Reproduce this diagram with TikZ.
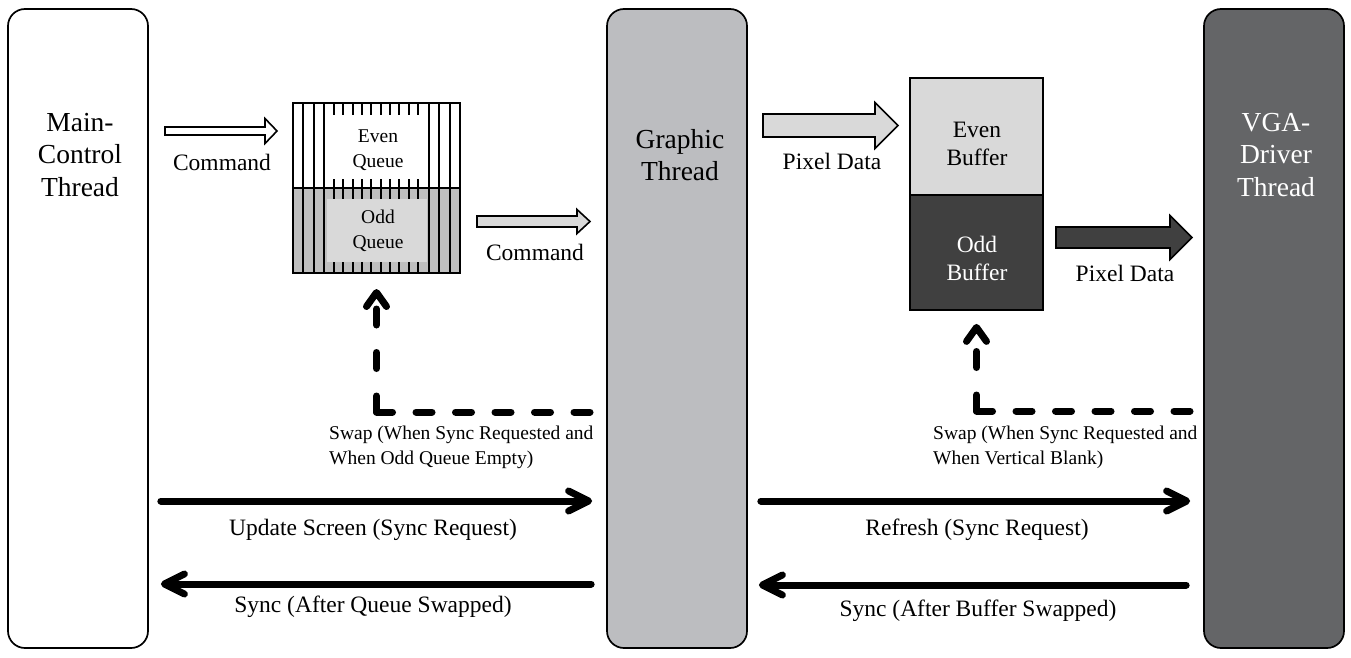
\documentclass[tikz,border=0pt]{standalone}
\usepackage{fontspec}
\setmainfont{Liberation Serif}
\usetikzlibrary{arrows.meta,calc}
\definecolor{gthread}{HTML}{BCBDC0}
\definecolor{vthread}{HTML}{646567}
\definecolor{lgray}{HTML}{D9D9D9}
\definecolor{mgray}{HTML}{BFBFBF}
\definecolor{dgray}{HTML}{404040}
\newcommand\blockarr[7]{%
  \draw[line width=1.6, fill=#1] (#2,#4-#5) -- (#3-#7,#4-#5) -- (#3-#7,#4-#6) -- (#3,#4) -- (#3-#7,#4+#6) -- (#3-#7,#4+#5) -- (#2,#4+#5) -- cycle;}
\tikzset{
  thread/.style={draw, line width=1.7, rounded corners=17, minimum width=140, minimum height=639, inner sep=0},
  threadtxt/.style={align=center, font=\fontsize{27.5}{32.5}\selectfont, inner sep=0},
  lbl/.style={font=\fontsize{23.5}{28}\selectfont, inner sep=0},
  smalllbl/.style={font=\fontsize{19.5}{25}\selectfont, inner sep=0, align=center},
  swaplbl/.style={font=\fontsize{19.5}{25}\selectfont, inner sep=0, align=left, anchor=west},
  solidarrow/.style={line width=7, line cap=round, -{Straight Barb[length=20pt,width=20pt,line cap=round,line join=round]}},
  hdash/.style={line width=7, line cap=round, dash pattern=on 16pt off 23.5pt},
  vdash/.style={line width=7, line cap=round, dash pattern=on 16pt off 27.5pt, -{Straight Barb[length=14pt,width=20pt,line cap=round,line join=round]}},
  subbox/.style={draw, line width=2, minimum width=167, minimum height=85, inner sep=0},
  bufbox/.style={draw, line width=1.8, minimum width=133, inner sep=0},
}
\begin{document}
\begin{tikzpicture}[x=1pt,y=-1pt]
\useasboundingbox (0,0) rectangle (1351,658);
% thread columns
\node[thread, fill=white] (main) at (78,328.5) {};
\node[thread, fill=gthread] (graphic) at (677,328.5) {};
\node[thread, fill=vthread] (vga) at (1274,328.5) {};
\node[threadtxt] (maintxt) at (80,155) {Main-\\Control\\Thread};
\node[threadtxt] (graphictxt) at (680,155) {Graphic\\Thread};
\node[threadtxt, text=white] (vgatxt) at (1276,155) {VGA-\\Driver\\Thread};
% queue
\fill[white] (293,103) rectangle (460,188);
\fill[mgray] (293,188) rectangle (460,273);
\foreach \x in {303.3,314,324.3,334,343.3,352.7,362,371.3,380.7,390,399.3,408.7,418,428.7,439.3,450}
  \draw[line width=2] (\x,103) -- (\x,273);
\node[fill=white, minimum width=100, minimum height=64, inner sep=0] (evenin) at (377,147) {};
\node[fill=lgray, minimum width=100, minimum height=63, inner sep=0] (oddin) at (377,230.5) {};
\node[subbox] (evenq) at (376.5,145.5) {};
\node[subbox] (oddq) at (376.5,230.5) {};
\node[smalllbl] (evenqtxt) at (378,150) {Even\\Queue};
\node[smalllbl] (oddqtxt) at (378,231) {Odd\\Queue};
% buffers
\node[bufbox, fill=lgray, minimum height=117] (evenb) at (976.5,136.5) {};
\node[bufbox, fill=dgray, minimum height=115] (oddb) at (976.5,252.5) {};
\node[lbl, align=center] (evenbtxt) at (977,144) {Even\\Buffer};
\node[lbl, align=center, text=white] (oddbtxt) at (977,258) {Odd\\Buffer};
% block arrows
\blockarr{white}{165}{277}{131}{4}{12.5}{12}
\blockarr{lgray}{477}{590}{221.5}{5.5}{12}{13}
\blockarr{lgray}{763}{898}{125.5}{11.5}{23}{23}
\blockarr{dgray}{1056}{1192}{237.5}{10.5}{22}{22}
\node[lbl] (cmd1) at (222,162) {Command};
\node[lbl] (cmd2) at (535,252) {Command};
\node[lbl] (pix1) at (832,161) {Pixel Data};
\node[lbl] (pix2) at (1125,273) {Pixel Data};
% dashed swap arrows
\coordinate (c1) at (oddq.south |- 0,412);
\coordinate (c2) at (oddb.south |- 0,411);
\draw[hdash] (c1) -- ([xshift=-15]graphic.west |- c1);
\draw[vdash] (c1) -- ([yshift=-15]oddq.south);
\draw[hdash] (c2) -- ([xshift=-13]vga.west |- c2);
\draw[vdash] (c2) -- ([yshift=-13]oddb.south);
\node[swaplbl] (swap1) at (329,447.5) {Swap (When Sync Requested and\\When Odd Queue Empty)};
\node[swaplbl] (swap2) at (933,447.5) {Swap (When Sync Requested and\\When Vertical Blank)};
% sync arrows
\draw[solidarrow] ([xshift=12]main.east |- 0,501) -- ([xshift=-14]graphic.west |- 0,501);
\draw[solidarrow] ([xshift=-15]graphic.west |- 0,584) -- ([xshift=12]main.east |- 0,584);
\draw[solidarrow] ([xshift=13]graphic.east |- 0,501) -- ([xshift=-13]vga.west |- 0,501);
\draw[solidarrow] ([xshift=-17]vga.west |- 0,585) -- ([xshift=11]graphic.east |- 0,585);
\node[lbl] (upd) at (373,530) {Update Screen (Sync Request)};
\node[lbl] (sync1) at (373,607) {Sync (After Queue Swapped)};
\node[lbl] (refr) at (977,530) {Refresh (Sync Request)};
\node[lbl] (sync2) at (978,611) {Sync (After Buffer Swapped)};
\end{tikzpicture}
\end{document}
